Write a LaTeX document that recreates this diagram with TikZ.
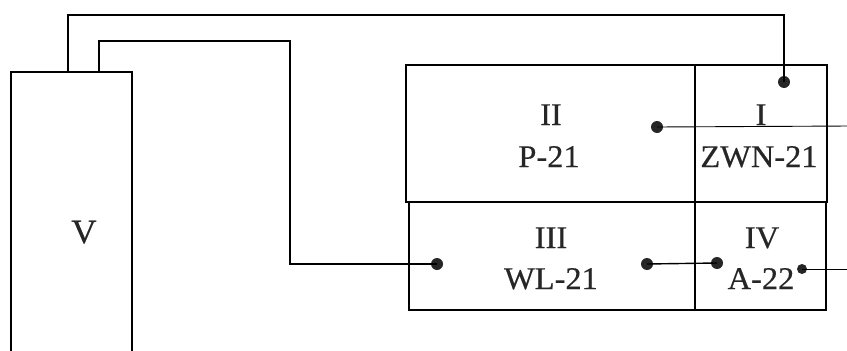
\documentclass[tikz,border=0pt]{standalone}
\usepackage{fontspec}
\setmainfont{Liberation Serif}[FakeStretch=1.03,FakeBold=0.4]
\begin{document}
\begin{tikzpicture}[x=1pt,y=-1pt,
  cell/.style={draw, line width=1.8pt, inner sep=0pt},
  vbox/.style={draw, line width=1.8pt},
  dot/.style={circle, fill=black!85, inner sep=0pt, minimum size=12pt},
  sdot/.style={circle, fill=black!85, inner sep=0pt, minimum size=10pt},
  lbl/.style={font=\fontsize{31.5}{36}\selectfont, anchor=base, inner sep=0pt, text=black!85},
  thick wire/.style={line width=2.2pt},
  mid wire/.style={line width=1.4pt},
  thin wire/.style={line width=0.9pt}]
\useasboundingbox (0,0) rectangle (847,351);
% cells
\node[cell, minimum width=289pt, minimum height=137pt] (cII) at (550.5,133.5) {};
\node[cell, minimum width=132pt, minimum height=137pt] (cI) at (761,133.5) {};
\node[cell, minimum width=286pt, minimum height=108pt] (cIII) at (552,256) {};
\node[cell, minimum width=131pt, minimum height=108pt] (cIV) at (760.5,256) {};
% V box (open at the bottom)
\draw[vbox] (11,360) -- (11,72) -- (132,72) -- (132,360);
\coordinate (vA) at (68,72);
\coordinate (vB) at (99,72);
% labels
\node[lbl] (tII) at (551,125) {II};
\node[lbl] (tP) at (549,167) {P-21};
\node[lbl] (tI) at (761,125) {I};
\node[lbl] (tZ) at (759,167) {ZWN-21};
\node[lbl] (tIII) at (551,248) {III};
\node[lbl] (tWL) at (551,289) {WL-21};
\node[lbl] (tIV) at (762,248) {IV};
\node[lbl] (tA) at (761,289) {A-22};
\node[lbl, font=\fontsize{34}{38}\selectfont] (tV) at (84,243) {V};
% dots
\node[dot] (d1) at (784,82) {};
\node[dot] (d2) at (657,127) {};
\node[dot] (d3) at (437,264) {};
\node[dot] (d4) at (647,264) {};
\node[dot] (d5) at (717,263) {};
\node[sdot] (d6) at (802,269) {};
% free ends and corners
\coordinate (t1) at (784,15);
\coordinate (t2) at (290,41);
\coordinate (e2) at (850,126);
\coordinate (e6) at (850,269);
% connectors
\draw[thick wire] (vA) |- (t1) -- (d1.center);
\draw[mid wire] (vB) |- (t2) |- (d3.center);
\draw[mid wire] (d4.center) -- (d5.center);
\draw[thin wire] (d2.center) -- (e2);
\draw[thin wire] (d6.center) -- (e6);
\end{tikzpicture}
\end{document}
